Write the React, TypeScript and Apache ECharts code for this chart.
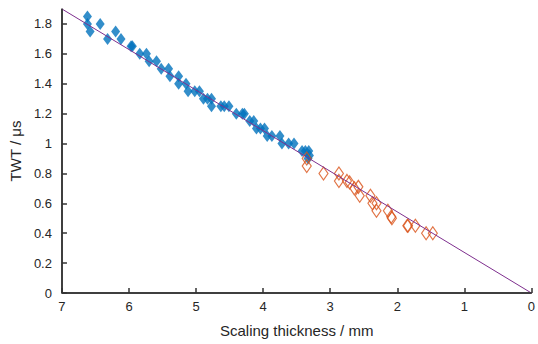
import React, { useEffect, useRef } from "react";
import * as echarts from "echarts";

const blueX = [6.62, 6.62, 6.58, 6.43, 6.32, 6.2, 6.12, 5.97, 5.95, 5.84, 5.74, 5.7, 5.59, 5.52, 5.41, 5.39, 5.26, 5.26, 5.15, 5.12, 5.02, 4.95, 4.89, 4.83, 4.77, 4.77, 4.63, 4.58, 4.51, 4.4, 4.31, 4.28, 4.2, 4.14, 4.1, 4.04, 3.98, 3.94, 3.87, 3.75, 3.72, 3.62, 3.54, 3.42, 3.37, 3.32, 3.31, 3.33];
const blueY = [1.85, 1.8, 1.75, 1.8, 1.7, 1.75, 1.7, 1.65, 1.65, 1.6, 1.6, 1.55, 1.55, 1.5, 1.5, 1.45, 1.45, 1.4, 1.4, 1.35, 1.35, 1.35, 1.3, 1.3, 1.3, 1.25, 1.25, 1.25, 1.25, 1.2, 1.2, 1.2, 1.15, 1.15, 1.1, 1.1, 1.1, 1.05, 1.05, 1.05, 1.0, 1.0, 1.0, 0.95, 0.95, 0.95, 0.92, 0.9];
const orangeX = [3.35, 3.35, 3.1, 2.87, 2.87, 2.75, 2.71, 2.64, 2.58, 2.56, 2.4, 2.37, 2.31, 2.31, 2.14, 2.09, 2.08, 1.85, 1.84, 1.73, 1.57, 1.47];
const orangeY = [0.9, 0.85, 0.8, 0.8, 0.75, 0.75, 0.74, 0.7, 0.71, 0.65, 0.65, 0.6, 0.6, 0.55, 0.55, 0.51, 0.5, 0.45, 0.45, 0.45, 0.4, 0.4];
const fitX = [7, 0];
const fitY = [1.9, 0];
const xRange = [7, 0];
const yRange = [0, 1.9];

const zip = (a: number[], b: number[]) => a.map((v, i) => [v, b[i]]);

export default function App() {
  const ref = useRef<HTMLDivElement>(null);
  useEffect(() => {
    if (!ref.current) return;
    const chart = echarts.init(ref.current, undefined, { renderer: "svg" });
    const font = "'Liberation Sans', Arial, Helvetica, sans-serif";
    const axisColor = "#333333";
    chart.setOption({
      animation: false,
      textStyle: { fontFamily: font },
      grid: { left: 54, right: 6, top: 9, bottom: 51, containLabel: false },
      xAxis: {
        type: "value",
        inverse: true,
        min: 0,
        max: 7,
        interval: 1,
        z: 10,
        name: "Scaling thickness / mm",
        nameLocation: "middle",
        nameGap: 30,
        nameTextStyle: { fontSize: 15, color: "#262626", fontFamily: font },
        axisLine: { show: true, onZero: false, lineStyle: { color: axisColor, width: 1.5 } },
        axisTick: { show: true, inside: true, length: 5, lineStyle: { color: axisColor, width: 1.5 } },
        axisLabel: { color: "#262626", fontSize: 13, margin: 7, fontFamily: font },
        splitLine: { show: false },
      },
      yAxis: {
        type: "value",
        min: 0,
        max: 1.9,
        interval: 0.2,
        z: 10,
        name: "TWT / μs",
        nameLocation: "middle",
        nameGap: 38,
        nameTextStyle: { fontSize: 15, color: "#262626", fontFamily: font },
        axisLine: { show: true, onZero: false, lineStyle: { color: axisColor, width: 1.5 } },
        axisTick: { show: true, inside: true, length: 5, lineStyle: { color: axisColor, width: 1.5 } },
        axisLabel: {
          color: "#262626",
          fontSize: 13,
          margin: 10,
          fontFamily: font,
          showMaxLabel: false,
          formatter: (v: number) => (v > 1.85 ? "" : String(+Number(v).toFixed(2))),
        },
        splitLine: { show: false },
      },
      series: [
        {
          type: "scatter",
          data: zip(blueX, blueY),
          symbol: "diamond",
          symbolSize: [9, 12],
          itemStyle: { color: "#0072bd" },
        },
        {
          type: "scatter",
          data: zip(orangeX, orangeY),
          symbol: "diamond",
          symbolSize: [9, 13],
          itemStyle: { color: "rgba(255,255,255,0)", borderColor: "#d95319", borderWidth: 1.2 },
        },
        {
          type: "line",
          data: zip(fitX, fitY),
          showSymbol: false,
          symbol: "none",
          clip: false,
          lineStyle: { color: "#7e2f8e", width: 1 },
          z: 5,
          markLine: {
            silent: true,
            symbol: "none",
            label: { show: false },
            lineStyle: { color: axisColor, width: 1.5, type: "solid" },
            data: [
              [{ coord: [xRange[0], yRange[0]] }, { coord: [xRange[1], yRange[0]] }],
              [{ coord: [xRange[0], yRange[0]] }, { coord: [xRange[0], yRange[1]] }],
            ],
          },
        },
      ],
    });
    return () => chart.dispose();
  }, []);
  return <div ref={ref} style={{ width: 538, height: 344, position: "absolute", left: 0, top: 0 }} />;
}
